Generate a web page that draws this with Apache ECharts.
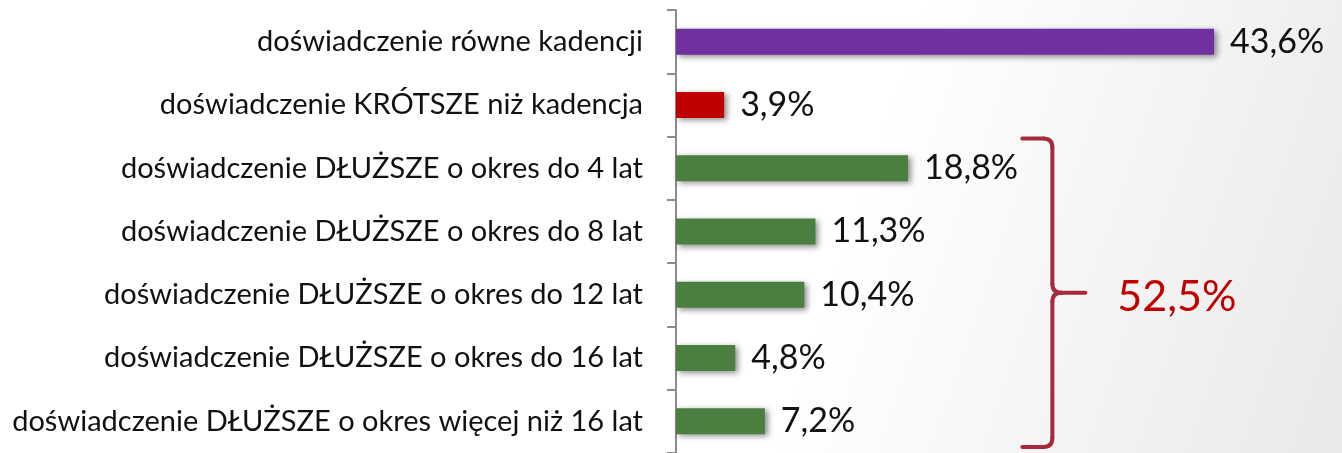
<!DOCTYPE html>
<html>
<head>
<meta charset="utf-8">
<script src="https://cdn.jsdelivr.net/npm/echarts@6/dist/echarts.min.js"></script>
<style>
  html, body { margin: 0; padding: 0; }
  #chart { width: 1342px; height: 453px; }
</style>
</head>
<body>
<div id="chart"></div>
<script>
const categories = [
  'doświadczenie równe kadencji',
  'doświadczenie KRÓTSZE niż kadencja',
  'doświadczenie DŁUŻSZE o okres do 4 lat',
  'doświadczenie DŁUŻSZE o okres do 8 lat',
  'doświadczenie DŁUŻSZE o okres do 12 lat',
  'doświadczenie DŁUŻSZE o okres do 16 lat',
  'doświadczenie DŁUŻSZE o okres więcej niż 16 lat'
]
const values = [43.6, 3.9, 18.8, 11.3, 10.4, 4.8, 7.2]
const barColors = ['#7030A0', '#C00000', '#4B7F3F', '#4B7F3F', '#4B7F3F', '#4B7F3F', '#4B7F3F']
// indices grouped by the brace
const braceGroup = [2, 3, 4, 5, 6]

const fmt = v => v.toFixed(1).replace('.', ',') + '%'
const FONT = 'Lato, "Open Sans", sans-serif'

const chart = echarts.init(document.getElementById('chart'))

const option = {
  backgroundColor: new echarts.graphic.LinearGradient(0, 0, 1, 1, [
    { offset: 0, color: '#ffffff' },
    { offset: 0.62, color: '#ffffff' },
    { offset: 1, color: '#e9e9e9' }
  ]),
  animation: false,
  grid: { left: 676, top: 10, width: 617, height: 448 },
  xAxis: {
    type: 'value',
    min: 0,
    max: 50,
    show: false
  },
  yAxis: {
    type: 'category',
    inverse: true,
    data: categories,
    axisLine: { show: true, lineStyle: { color: '#8c8c8c', width: 2 } },
    axisTick: { show: true, length: 9, lineStyle: { color: '#8c8c8c', width: 2 } },
    axisLabel: { margin: 33, fontSize: 29, color: '#111', fontFamily: FONT }
  },
  series: [{
    type: 'bar',
    barWidth: 26,
    data: values.map((v, i) => ({
      value: v,
      itemStyle: {
        color: barColors[i],
        shadowColor: 'rgba(0,0,0,0.45)',
        shadowBlur: 6,
        shadowOffsetX: 3,
        shadowOffsetY: 2
      }
    })),
    label: {
      show: true,
      position: 'right',
      distance: 16,
      fontSize: 34,
      color: '#111',
      fontFamily: FONT,
      formatter: p => fmt(p.value)
    }
  }]
}

chart.setOption(option)

// brace around the longer-experience group
const c0 = chart.convertToPixel({ yAxisIndex: 0 }, braceGroup[0])
const c1 = chart.convertToPixel({ yAxisIndex: 0 }, braceGroup[1])
const cN = chart.convertToPixel({ yAxisIndex: 0 }, braceGroup[braceGroup.length - 1])
const band = c1 - c0
const T = c0 - band / 2 + 2
const B = cN + band / 2 - 6
const M = (T + B) / 2
const X = chart.convertToPixel({ xAxisIndex: 0 }, 30.5)
const L = X - 30
const P = X + 33
const r = 9
const braceColor = '#A52A3C'
const st = { stroke: braceColor, lineWidth: 4, lineCap: 'round', fill: null }
const total = braceGroup.reduce((s, i) => s + values[i], 0)

chart.setOption({
  graphic: [
    { type: 'line', shape: { x1: L, y1: T, x2: X - r, y2: T }, style: st },
    { type: 'bezierCurve', shape: { x1: X - r, y1: T, x2: X, y2: T + r, cpx1: X, cpy1: T }, style: st },
    { type: 'line', shape: { x1: X, y1: T + r, x2: X, y2: M - r }, style: st },
    { type: 'bezierCurve', shape: { x1: X, y1: M - r, x2: X + r, y2: M, cpx1: X, cpy1: M }, style: st },
    { type: 'bezierCurve', shape: { x1: X, y1: M + r, x2: X + r, y2: M, cpx1: X, cpy1: M }, style: st },
    { type: 'line', shape: { x1: X + r, y1: M, x2: P, y2: M }, style: st },
    { type: 'line', shape: { x1: X, y1: M + r, x2: X, y2: B - r }, style: st },
    { type: 'bezierCurve', shape: { x1: X, y1: B - r, x2: X - r, y2: B, cpx1: X, cpy1: B }, style: st },
    { type: 'line', shape: { x1: X - r, y1: B, x2: L, y2: B }, style: st },
    {
      type: 'text',
      x: P + 32,
      y: M + 4,
      style: {
        text: fmt(total),
        fill: '#C00000',
        font: '43px ' + FONT,
        textVerticalAlign: 'middle',
        verticalAlign: 'middle'
      }
    }
  ]
})
</script>
</body>
</html>
